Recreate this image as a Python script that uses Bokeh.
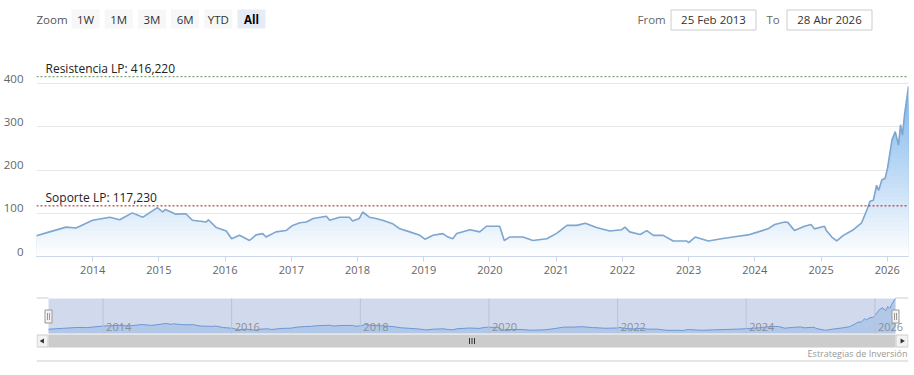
import numpy as np
import pandas as pd
from bokeh.plotting import figure
from bokeh.models import Range1d, FixedTicker, DatetimeTickFormatter, LinearAxis, Span, Grid
from bokeh.layouts import column
from bokeh.embed import file_html
from bokeh.resources import INLINE
from bokeh.core.properties import value

# ---------------- data ----------------
dates = ["2013-02-25", "2013-05-08", "2013-08-07", "2013-10-01",
         "2014-01-01", "2014-04-05", "2014-05-30", "2014-08-07", "2014-10-05", "2014-12-24",
         "2015-01-22", "2015-02-06", "2015-04-05", "2015-05-30", "2015-07-05", "2015-09-20", "2015-10-01", "2015-11-14",
         "2016-01-08", "2016-02-06", "2016-03-21", "2016-05-15", "2016-06-20", "2016-07-27", "2016-08-14", "2016-10-08", "2016-12-02",
         "2017-01-08", "2017-02-17", "2017-03-25", "2017-05-01", "2017-07-13", "2017-07-31", "2017-09-24", "2017-11-17", "2017-12-05",
         "2018-01-11", "2018-01-29", "2018-03-07", "2018-04-12", "2018-05-19", "2018-07-13", "2018-08-22", "2018-10-16", "2018-12-10",
         "2019-01-08", "2019-02-21", "2019-04-16", "2019-05-15", "2019-06-10", "2019-07-02", "2019-09-13", "2019-11-06", "2019-12-13",
         "2020-02-24", "2020-03-20", "2020-04-19", "2020-07-01", "2020-08-25", "2020-11-10",
         "2021-01-05", "2021-03-01", "2021-04-24", "2021-06-10", "2021-08-11", "2021-10-23", "2021-12-28",
         "2022-01-15", "2022-02-10", "2022-04-09", "2022-05-15", "2022-06-21", "2022-08-14", "2022-10-08", "2022-12-20",
         "2023-01-02", "2023-02-06", "2023-04-20", "2023-07-01", "2023-10-01", "2023-11-25",
         "2024-01-20", "2024-03-14", "2024-04-20", "2024-06-14", "2024-07-01", "2024-08-07", "2024-10-01", "2024-11-06", "2024-11-25",
         "2025-01-20", "2025-01-30", "2025-03-01", "2025-03-28", "2025-05-04", "2025-06-28", "2025-08-11", "2025-09-10", "2025-09-28",
         "2025-10-16", "2025-11-03", "2025-11-14", "2025-12-02", "2025-12-20",
         "2026-01-02", "2026-01-27", "2026-02-14", "2026-03-04", "2026-03-15", "2026-03-26", "2026-04-06", "2026-04-28"]

prices = [48, 57, 68, 66,
          84, 91, 85, 101, 91, 113,
          103, 109, 98, 99, 84, 80, 85, 67,
          59, 41, 49, 37, 50, 53, 45, 57, 60,
          72, 78, 80, 88, 93, 84, 91, 91, 82,
          88, 103, 91, 88, 84, 76, 64, 57, 49,
          40, 49, 53, 45, 41, 53, 62, 57, 70,
          70, 37, 45, 45, 37, 41,
          54, 72, 72, 77, 67, 59, 62,
          68, 57, 51, 60, 49, 49, 36, 36,
          32, 45, 36, 41, 47, 50,
          57, 64, 74, 80, 79, 60, 70, 74, 64,
          70, 60, 45, 36, 49, 62, 77, 107, 128,
          130, 165, 153, 177, 181,
          204, 270, 289, 258, 305, 281, 328, 394]

resistance = 416.22
support = 117.23
y_ticks = [0, 100, 200, 300, 400]
grid_ticks = [0, 100, 200, 300, 400, 500]
x_tick_years = list(range(2014, 2027))
nav_tick_years = [2014, 2016, 2018, 2020, 2022, 2024, 2026]
zoom_buttons = ["1W", "1M", "3M", "6M", "YTD", "All"]
selected_button = "All"
from_label = "25 Feb 2013"
to_label = "28 Abr 2026"
credit_text = "Estrategias de Inversión"

FONT = value("Open Sans")
W = 912
BL, BR = 36, 4            # common frame borders (column aligns frames)
FL, FR = BL, W - BR       # frame extent in page pixels


def to_ms(strs):
    return pd.to_datetime(pd.Series(strs)).values.astype("datetime64[ms]").astype(np.int64).astype(float)


xs = to_ms(dates)
vals = np.array(prices, dtype=float)
vmax = vals.max()
year_ms = to_ms([f"{y}-01-01" for y in x_tick_years])
nav_ms = to_ms([f"{y}-01-01" for y in nav_tick_years])


def fmt(v):
    return f"{v:.3f}".replace(".", ",")


def deco_fig(h, y0, y1):
    f = figure(width=W, height=h, x_range=Range1d(FL, FR), y_range=Range1d(y1, y0),
               x_axis_location=None, y_axis_location=None, min_border=0,
               min_border_left=BL, min_border_right=BR,
               outline_line_color=None, toolbar_location=None, output_backend="svg")
    f.grid.visible = False
    return f


# ---------------- top bar (range selector) ----------------
pa = deco_fig(40, 0, 40)

pa.text(x=[36], y=[18.5], text=["Zoom"], text_font=FONT, text_font_size="11.5px",
        text_color="#555555", text_align="left", text_baseline="middle")
bl = [71 + i * 33.2 for i in range(len(zoom_buttons))]
br = [b + 28 for b in bl]
fills = ["#e6ebf5" if b == selected_button else "#f7f7f7" for b in zoom_buttons]
pa.quad(left=bl, right=br, top=[9] * len(bl), bottom=[28] * len(bl), fill_color=fills, line_color=None)
for b, l, r in zip(zoom_buttons, bl, br):
    pa.text(x=[(l + r) / 2], y=[18.5], text=[b], text_font=FONT, text_font_size="11.5px",
            text_color="#000000" if b == selected_button else "#333333",
            text_font_style="bold" if b == selected_button else "normal",
            text_align="center", text_baseline="middle")

pa.text(x=[637], y=[18.5], text=["From"], text_font=FONT, text_font_size="11.5px",
        text_color="#666666", text_align="left", text_baseline="middle")
pa.text(x=[766], y=[18.5], text=["To"], text_font=FONT, text_font_size="11.5px",
        text_color="#666666", text_align="left", text_baseline="middle")
pa.quad(left=[670.5, 786.5], right=[755.5, 871.5], top=[9.5, 9.5], bottom=[29.5, 29.5],
        fill_color="white", line_color="#cccccc", line_width=1)
pa.text(x=[713, 829], y=[19, 19], text=[from_label, to_label], text_font=FONT, text_font_size="11.5px",
        text_color="#333333", text_align="center", text_baseline="middle")

# ---------------- main chart ----------------
p = figure(width=W, height=250, x_axis_type="datetime",
           x_range=Range1d(xs[0], xs[-1]), y_range=Range1d(0, 500),
           y_axis_location=None, min_border_left=BL, min_border_right=BR,
           min_border_top=0, min_border_bottom=34,
           outline_line_color=None, toolbar_location=None, output_backend="svg")
p.xgrid.visible = False
p.ygrid.visible = False
p.add_layout(Grid(dimension=1, ticker=FixedTicker(ticks=grid_ticks), grid_line_color="#e6e6e6"))

# y labels slightly above the grid lines (Highstock style)
shift = 5 * 500 / 216.0
p.extra_y_ranges = {"lbl": Range1d(-shift, 500 - shift)}
yax = LinearAxis(y_range_name="lbl", ticker=FixedTicker(ticks=y_ticks),
                 axis_line_color=None, major_tick_line_color=None, minor_tick_line_color=None,
                 major_tick_in=0, major_tick_out=0, minor_tick_in=0, minor_tick_out=0,
                 major_label_standoff=13, major_label_text_color="#666666",
                 major_label_text_font="Open Sans", major_label_text_font_size="11.5px")
p.add_layout(yax, "left")

xax = p.xaxis[0]
xax.ticker = FixedTicker(ticks=list(year_ms))
xax.formatter = DatetimeTickFormatter(years="%Y", months="%Y", days="%Y", hours="%Y")
xax.axis_line_color = "#ccd6eb"
xax.major_tick_line_color = "#ccd6eb"
xax.major_tick_in = 0
xax.major_tick_out = 5
xax.minor_tick_line_color = None
xax.major_label_standoff = 4
xax.major_label_text_color = "#666666"
xax.major_label_text_font = "Open Sans"
xax.major_label_text_font_size = "11px"

# gradient area: layered bands from top colour to white
n_bands = 40
base = np.array([124, 181, 236])
for j in range(n_bands, 0, -1):
    lvl = vmax * j / n_bands
    a = (lvl - vmax / (2 * n_bands)) / vmax
    c = (255 * (1 - a) + base * a).astype(int)
    p.varea(x=xs, y1=np.zeros_like(vals), y2=np.minimum(vals, lvl),
            fill_color=(int(c[0]), int(c[1]), int(c[2])), fill_alpha=1.0)
p.line(x=xs, y=vals, line_color="#7ea6cf", line_width=1.6)

p.add_layout(Span(location=resistance, dimension="width", line_color="#5d8a50",
                  line_dash="2 2", line_width=1))
p.add_layout(Span(location=support, dimension="width", line_color="#9b1c1c",
                  line_dash="2 2", line_width=1))
p.text(x=[xs[0], xs[0]], y=[resistance, support],
       text=[f"Resistencia LP: {fmt(resistance)}", f"Soporte LP: {fmt(support)}"],
       x_offset=9, text_baseline="bottom", text_align="left",
       text_font=FONT, text_font_size="12px", text_color="#222222")

# ---------------- navigator / scrollbar ----------------
pc = deco_fig(72, 290, 362)

nav_l, nav_r, nav_t, nav_b = 48, 895, 298, 333
k = (xs[-1] - xs[0]) / (nav_r - nav_l)
u = vmax / (nav_b - nav_t)
pc.extra_x_ranges = {"navx": Range1d(xs[0] - (nav_l - FL) * k, xs[-1] + (FR - nav_r) * k)}
pc.extra_y_ranges = {"navy": Range1d(-(362 - nav_b) * u, vmax + (nav_t - 290) * u)}

pc.varea(x=xs, y1=np.zeros_like(vals), y2=vals, x_range_name="navx", y_range_name="navy",
         fill_color="#7cb5ec", fill_alpha=0.35)
pc.line(x=xs, y=vals, x_range_name="navx", y_range_name="navy", line_color="#6f9fd8", line_width=1)

# mask (whole range selected)
pc.quad(left=[nav_l], right=[nav_r], top=[nav_t], bottom=[nav_b],
        fill_color=(102, 133, 194), fill_alpha=0.3, line_color=None)
pc.segment(x0=nav_ms, x1=nav_ms, y0=[nav_t] * len(nav_ms), y1=[nav_b] * len(nav_ms),
           x_range_name="navx", line_color="#b9c3da", line_width=1)
pc.text(x=nav_ms, y=[326] * len(nav_ms), text=[str(y) for y in nav_tick_years],
        x_range_name="navx", x_offset=3, text_align="left", text_baseline="middle",
        text_font=FONT, text_font_size="11px", text_color="#8a8f99")

# outline pieces
pc.segment(x0=[FL, nav_r], x1=[nav_l, FR], y0=[nav_t - 0.5] * 2, y1=[nav_t - 0.5] * 2,
           line_color="#cccccc", line_width=1)

# handles
for cx in (nav_l, nav_r):
    pc.quad(left=[cx - 3.5], right=[cx + 3.5], top=[309.5], bottom=[322.5],
            fill_color="#f2f2f2", line_color="#999999", line_width=1)
    pc.segment(x0=[cx - 1, cx + 1], x1=[cx - 1, cx + 1], y0=[312.5, 312.5], y1=[319.5, 319.5],
               line_color="#999999", line_width=1)

# scrollbar
pc.quad(left=[nav_l], right=[nav_r], top=[334], bottom=[347], fill_color="#cccccc", line_color=None)
pc.quad(left=[FL + 0.5, nav_r + 0.5], right=[nav_l - 0.5, FR - 0.5], top=[334.5, 334.5], bottom=[346.5, 346.5],
        fill_color="#f2f2f2", line_color="#cccccc", line_width=1)
pc.scatter(x=[42], y=[340.5], marker="triangle", angle=np.pi / 2, size=5,
           fill_color="#333333", line_color=None)
pc.scatter(x=[901.5], y=[340.5], marker="triangle", angle=-np.pi / 2, size=5,
           fill_color="#333333", line_color=None)
gx = [(nav_l + nav_r) / 2 + d for d in (-2.5, 0, 2.5)]
pc.segment(x0=gx, x1=gx, y0=[337.5] * 3, y1=[343.5] * 3, line_color="#333333", line_width=1)

# credits
pc.text(x=[907], y=[352.5], text=[credit_text], text_align="right", text_baseline="middle",
        text_font=FONT, text_font_size="9px", text_color="#999999")

# bottom separator line
pc.segment(x0=[FL], x1=[FR], y0=[360.5], y1=[360.5], line_color="#cccccc", line_width=1)

layout = column(pa, p, pc, spacing=0)
open("out.html", "w").write(file_html(layout, INLINE))
